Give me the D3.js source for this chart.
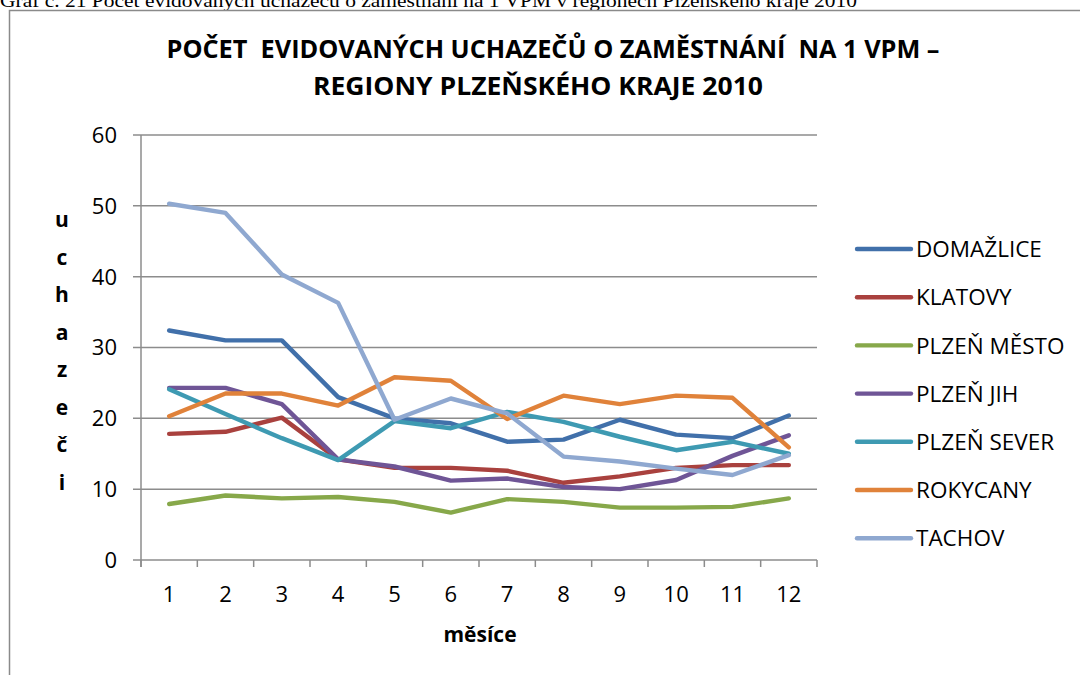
<!DOCTYPE html>
<html><head><meta charset="utf-8">
<script src="https://cdn.jsdelivr.net/npm/d3@7"></script>
<style>body{margin:0;background:#fff}svg{display:block}</style>
</head><body>
<svg id="c" width="1080" height="675"></svg>
<script>
const months = ["1","2","3","4","5","6","7","8","9","10","11","12"];
const yTicks = [0,10,20,30,40,50,60];
const seriesNames = ["DOMAŽLICE","KLATOVY","PLZEŇ MĚSTO","PLZEŇ JIH","PLZEŇ SEVER","ROKYCANY","TACHOV"];
const seriesColors = ["#4170AA","#A9413E","#87A84A","#6F5596","#3E9AB2","#E0823A","#8FA8D0"];
const domazlice = [32.4,31.0,31.0,23.0,20.0,19.3,16.7,17.0,19.8,17.7,17.2,20.4];
const klatovy = [17.8,18.1,20.1,14.2,13.0,13.0,12.6,10.9,11.8,13.0,13.4,13.4];
const plzenMesto = [7.9,9.1,8.7,8.9,8.2,6.7,8.6,8.2,7.4,7.4,7.5,8.7];
const plzenJih = [24.3,24.3,22.0,14.2,13.2,11.2,11.5,10.3,10.0,11.3,14.7,17.6];
const plzenSever = [24.1,20.6,17.2,14.1,19.6,18.6,20.9,19.5,17.4,15.5,16.7,15.0];
const rokycany = [20.3,23.5,23.5,21.8,25.8,25.3,19.9,23.2,22.0,23.2,22.9,15.9];
const tachov = [50.3,49.0,40.3,36.3,19.8,22.8,20.7,14.6,13.9,12.9,12.0,14.8];
const seriesValues = [domazlice,klatovy,plzenMesto,plzenJih,plzenSever,rokycany,tachov];

(function(){
const svg = d3.select("#c");
const F = "'Open Sans', 'Noto Sans', sans-serif";

svg.append("text").attr("x",0).attr("y",7).attr("font-family","'Liberation Serif', serif")
  .attr("font-size",18).attr("fill","#000").attr("textLength",857).attr("lengthAdjust","spacingAndGlyphs")
  .text("Graf č. 21 Počet evidovaných uchazečů o zaměstnání na 1 VPM v regionech Plzeňského kraje 2010");

svg.append("path").attr("d","M9.5,675 V10.5 H1080").attr("fill","none").attr("stroke","#8a8a8a").attr("stroke-width",1.5);

const pL=141, pR=817, pT=135, pB=560;
const x = d3.scaleBand().domain(months).range([pL,pR]);
const y = d3.scaleLinear().domain([0,60]).range([pB,pT]);

svg.append("g").selectAll("line").data(yTicks).join("line")
  .attr("x1",pL-8).attr("x2",pR).attr("y1",d=>y(d)).attr("y2",d=>y(d))
  .attr("stroke","#8c8c8c").attr("stroke-width",1.5);

svg.append("line").attr("x1",pL).attr("x2",pL).attr("y1",pT).attr("y2",pB+7)
  .attr("stroke","#8c8c8c").attr("stroke-width",1.5);

const xt = months.map(m=>x(m)).concat([pR]);
svg.append("g").selectAll("line").data(xt).join("line")
  .attr("x1",d=>d).attr("x2",d=>d).attr("y1",pB).attr("y2",pB+7)
  .attr("stroke","#8c8c8c").attr("stroke-width",1.5);

svg.append("g").selectAll("text").data(yTicks).join("text")
  .attr("x",117).attr("y",d=>y(d)).attr("dy","0.36em").attr("text-anchor","end")
  .attr("font-family",F).attr("font-size",22).attr("fill","#000").text(d=>d);

svg.append("g").selectAll("text").data(months).join("text")
  .attr("x",d=>x(d)+x.bandwidth()/2).attr("y",602).attr("text-anchor","middle")
  .attr("font-family",F).attr("font-size",22).attr("fill","#000").text(d=>d);

svg.append("text").attr("x",480).attr("y",642).attr("text-anchor","middle")
  .attr("font-family",F).attr("font-weight","bold").attr("font-size",21).text("měsíce");

const yl = "uchazeči".split("");
svg.append("g").selectAll("text").data(yl).join("text")
  .attr("x",62).attr("y",(d,i)=>227+i*37.5).attr("text-anchor","middle")
  .attr("font-family",F).attr("font-weight","bold").attr("font-size",21).text(d=>d);

svg.append("text").attr("x",553).attr("y",58).attr("text-anchor","middle")
  .attr("font-family",F).attr("font-weight","bold").attr("font-size",25)
  .style("white-space","pre")
  .attr("textLength",773).attr("lengthAdjust","spacingAndGlyphs")
  .text("POČET  EVIDOVANÝCH UCHAZEČŮ O ZAMĚSTNÁNÍ  NA 1 VPM –");
svg.append("text").attr("x",538).attr("y",95).attr("text-anchor","middle")
  .attr("font-family",F).attr("font-weight","bold").attr("font-size",25)
  .attr("textLength",450).attr("lengthAdjust","spacingAndGlyphs")
  .text("REGIONY PLZEŇSKÉHO KRAJE 2010");

const line = d3.line().x((d,i)=>x(months[i])+x.bandwidth()/2).y(d=>y(d));
svg.append("g").selectAll("path").data(seriesValues).join("path")
  .attr("d",line).attr("fill","none").attr("stroke",(d,i)=>seriesColors[i])
  .attr("stroke-width",4.4).attr("stroke-linejoin","round").attr("stroke-linecap","round");

const lg = svg.append("g").selectAll("g").data(seriesNames).join("g")
  .attr("transform",(d,i)=>`translate(0,${249+i*48.2})`);
lg.append("line").attr("x1",857).attr("x2",911).attr("stroke",(d,i)=>seriesColors[i])
  .attr("stroke-width",4.4).attr("stroke-linecap","round");
lg.append("text").attr("x",916).attr("dy","0.36em").attr("font-family",F).attr("font-size",22.5)
  .attr("fill","#000").text(d=>d);
})();
</script>
</body></html>
